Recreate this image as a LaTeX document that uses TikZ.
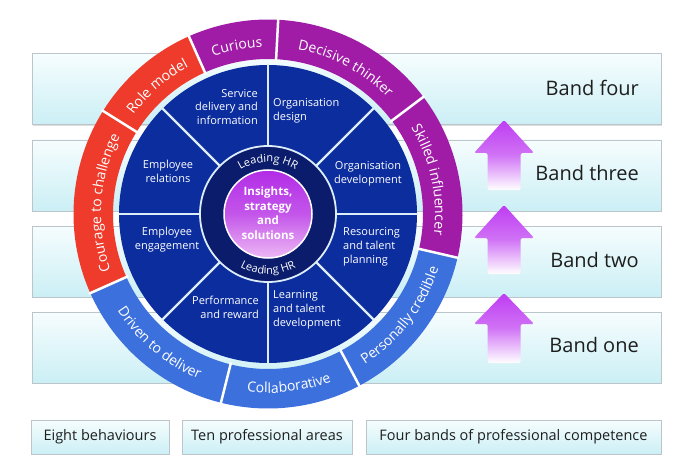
\documentclass[tikz,border=0pt]{standalone}
\usepackage{fontspec}
\setmainfont{Open Sans}
\usetikzlibrary{decorations.text,shadows}

\definecolor{sectorblue}{HTML}{0B2D9E}
\definecolor{navyring}{HTML}{0A1C6B}
\definecolor{ringpurple}{HTML}{A01CA6}
\definecolor{ringred}{HTML}{EE3B2B}
\definecolor{ringblue}{HTML}{3C70DC}
\definecolor{sepline}{HTML}{DDEEFA}
\definecolor{bandtop}{HTML}{F6FDFE}
\definecolor{bandbot}{HTML}{CBEFF5}
\definecolor{bandedge}{HTML}{BCC6CA}
\definecolor{arrowc}{HTML}{BE3CF2}
\definecolor{centertop}{HTML}{B22CE6}
\definecolor{centerbot}{HTML}{EDB8F4}
\definecolor{labeltext}{HTML}{1E1E1E}

\newcommand{\ringfont}{\fontsize{14}{16}\selectfont}
\newcommand{\leadfont}{\fontsize{11}{13}\selectfont}
\newcommand{\RingSeg}[3]{%
  \fill[#1] (#2:194.5pt) arc[start angle=#2, end angle=#3, radius=194.5pt]
    -- (#3:155pt) arc[start angle=#3, end angle=#2, radius=155pt] -- cycle;}
\newcommand{\RingTextCW}[3]{%
  \path[decorate, decoration={text along path, text align=center, text color=white,
    text={|\ringfont|#3}}] (#1:167pt) arc[start angle=#1, end angle=#2, radius=167pt];}
\newcommand{\RingTextCCW}[3]{%
  \path[decorate, decoration={text along path, text align=center, text color=white,
    text={|\ringfont|#3}}] (#1:179pt) arc[start angle=#1, end angle=#2, radius=179pt];}
\newcommand{\UpArrow}[3]{%
  \shade[top color=arrowc, bottom color=white, middle color=arrowc!72!white, rounded corners=1.5pt]
    (487.5pt,#3pt) -- (487.5pt,#2pt) -- (474pt,#2pt) -- (504pt,#1pt) -- (534pt,#2pt)
    -- (520.5pt,#2pt) -- (520.5pt,#3pt) -- cycle;}

\tikzset{
  band/.style={draw=bandedge, line width=0.8pt, top color=bandtop, bottom color=bandbot,
    drop shadow={shadow xshift=0.8pt, shadow yshift=-1.2pt, opacity=0.28}, inner sep=0pt},
  bandbox/.style={band, minimum width=629pt, minimum height=71pt},
  bandlabel/.style={text=labeltext, font=\fontsize{20}{24}\selectfont, inner sep=0pt, anchor=east},
  legendbox/.style={band, font=\fontsize{14.5}{17}\selectfont, text=labeltext, minimum height=34pt},
  areatext/.style={text=white, font=\fontsize{11}{13.8}\selectfont, inner sep=0pt},
  coretext/.style={text=white, font=\fontsize{11.5}{14.5}\selectfont\bfseries, inner sep=0pt, align=center},
}

\begin{document}
\begin{tikzpicture}[x=1pt, y=1pt]
\useasboundingbox (0,0) rectangle (682,472);

% bands of professional competence
\node[bandbox] (b4) at (346.5,383) {};
\node[bandbox] (b3) at (346.5,296.5) {};
\node[bandbox] (b2) at (346.5,210.5) {};
\node[bandbox] (b1) at (346.5,124.5) {};
\node[bandlabel] (t4) at (639,384.5) {Band four};
\node[bandlabel] (t3) at (639,299) {Band three};
\node[bandlabel] (t2) at (639,212) {Band two};
\node[bandlabel] (t1) at (639,127) {Band one};

% arrows
\UpArrow{352}{319}{282}
\UpArrow{267}{234}{198}
\UpArrow{179}{148}{109}

% the wheel
\begin{scope}[shift={(268,258)}]
  \RingSeg{ringpurple}{37}{87}
  \RingSeg{ringpurple}{87}{114}
  \RingSeg{ringred}{114}{148}
  \RingSeg{ringred}{148}{204}
  \RingSeg{ringblue}{204}{256}
  \RingSeg{ringblue}{256}{298}
  \RingSeg{ringblue}{298}{347}
  \RingSeg{ringpurple}{-13}{37}
  \foreach \a in {37,87,114,148,204,256,298,347}
    \draw[white, line width=2.5pt] (\a:153pt) -- (\a:196pt);

  \RingTextCW{87}{37}{Decisive thinker}
  \RingTextCW{114}{87}{Curious}
  \RingTextCW{148}{114}{Role model}
  \RingTextCW{204}{148}{Courage to challenge}
  \RingTextCW{37}{-13}{Skilled influencer}
  \RingTextCCW{204}{256}{Driven to deliver}
  \RingTextCCW{256}{298}{Collaborative}
  \RingTextCCW{298}{347}{Personally credible}

  \fill[sectorblue] (0,0) circle[radius=149pt];
  \foreach \a in {0,45,...,315}
    \draw[sepline, line width=2.4pt] (\a:66pt) -- (\a:149.5pt);
  \fill[navyring] (0,0) circle[radius=68pt];
  \draw[sepline, line width=1.8pt] (0,0) circle[radius=68pt];
  \shade[top color=centertop, bottom color=centerbot, middle color=centertop!70!centerbot] (0,0) circle[radius=44pt];
  \draw[white, line width=1.5pt] (0,0) circle[radius=44pt];

  \path[decorate, decoration={text along path, text align=center, text color=white,
    text={|\leadfont|Leading HR}}] (160:52pt) arc[start angle=160, end angle=20, radius=52pt];
  \path[decorate, decoration={text along path, text align=center, text color=white,
    text={|\leadfont|Leading HR}}] (200:60pt) arc[start angle=200, end angle=340, radius=60pt];
\end{scope}

% professional areas
\node[areatext, anchor=east, align=right] (a1) at (258,365) {Service\\delivery and\\information};
\node[areatext, anchor=west, align=left] (a2) at (273,361.5) {Organisation\\design};
\node[areatext, align=center] (a3) at (368,298.5) {Organisation\\development};
\node[areatext, anchor=west, align=left] (a4) at (343,225) {Resourcing\\and talent\\planning};
\node[areatext, anchor=west, align=left] (a5) at (273,162) {Learning\\and talent\\development};
\node[areatext, anchor=east, align=right] (a6) at (259,165) {Performance\\and reward};
\node[areatext, align=center] (a7) at (167,232) {Employee\\engagement};
\node[areatext, align=center] (a8) at (168,301) {Employee\\relations};
\node[coretext] (core) at (268,259) {Insights,\\strategy\\and\\solutions};

% legend
\node[legendbox, minimum width=138pt] (l1) at (100,35) {Eight behaviours};
\node[legendbox, minimum width=170pt] (l2) at (267,35) {Ten professional areas};
\node[legendbox, minimum width=295pt] (l3) at (513.5,35) {Four bands of professional competence};
\end{tikzpicture}
\end{document}
